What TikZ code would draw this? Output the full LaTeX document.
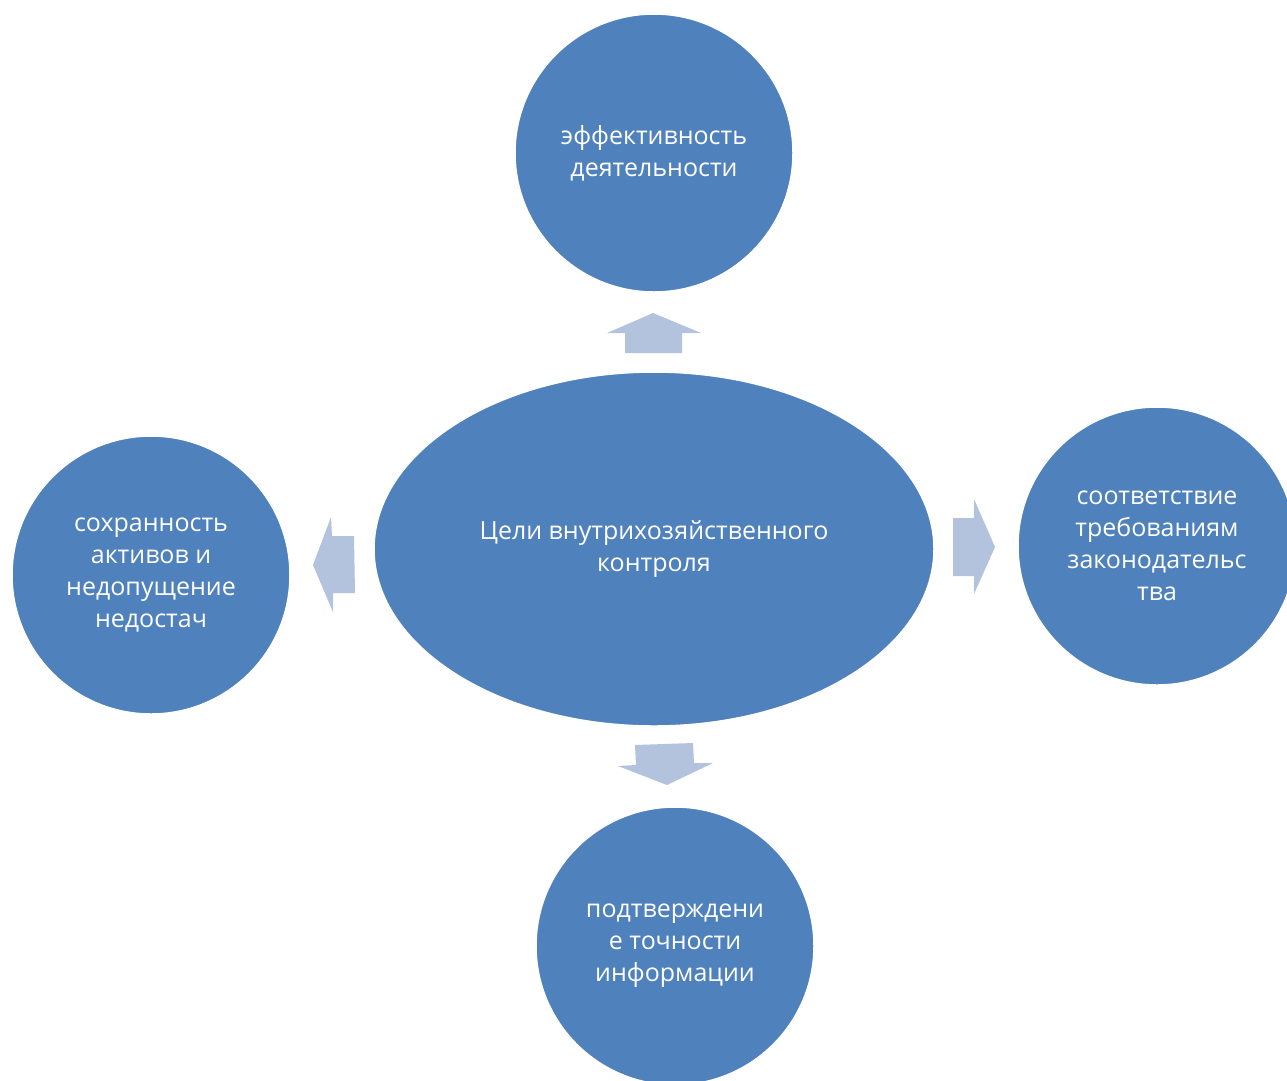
\documentclass[tikz,border=0pt]{standalone}
\usepackage{fontspec}
\setmainfont{Open Sans}
\usetikzlibrary{shapes.geometric}
\definecolor{circblue}{HTML}{4F81BD}
\definecolor{arrblue}{HTML}{B3C3DE}
\tikzset{
  goal/.style={circle, fill=circblue, draw=white, line width=1.5pt, minimum size=278pt, inner sep=0pt,
    text=white, align=center, font=\fontsize{25}{32}\selectfont},
  hub/.style={ellipse, fill=circblue, draw=white, line width=1.5pt, minimum width=560pt, minimum height=354pt,
    inner sep=0pt, text=white, align=center, font=\fontsize{25}{32}\selectfont},
  blockarrow/.style={fill=arrblue, draw=none}
}
\begin{document}
\begin{tikzpicture}[x=1pt,y=-1pt]
\useasboundingbox (0,0) rectangle (1287,1080);
\clip (0,0) rectangle (1287,1080);
\fill[white] (0,0) rectangle (1287,1080);
\node[hub] (c) at (654,549) {Цели внутрихозяйственного\\контроля};
\node[goal] (t) at (654,153) {эффективность\\деятельности};
\node[goal] (r) at (1157,546) {соответствие\\требованиям\\законодательс\\тва};
\node[goal] (l) at (151,575) {сохранность\\активов и\\недопущение\\недостач};
\node[goal] (b) at (675,946) {подтверждени\\е точности\\информации};
% up arrow
\fill[blockarrow] (625,353) -- (625,333) -- (607,333) -- (653,313) -- (701,333) -- (682,333) -- (682,353) -- cycle;
% right arrow
\fill[blockarrow] (953,518) -- (974,518) -- (974,499) -- (995,547) -- (974,594) -- (974,576) -- (953,576) -- cycle;
% left arrow
\fill[blockarrow] (354,536) -- (332,536) -- (331,517) -- (313,565) -- (333,612) -- (333,593) -- (355,593) -- cycle;
% down arrow
\fill[blockarrow] (635,745) -- (693,743) -- (694,763) -- (713,763) -- (667,785) -- (618,766) -- (636,765) -- cycle;
\end{tikzpicture}
\end{document}
